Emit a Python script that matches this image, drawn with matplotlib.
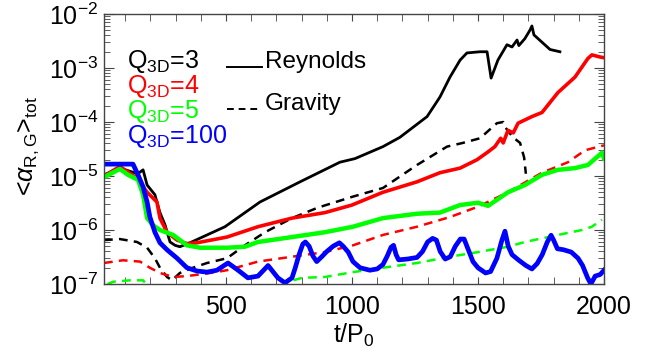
import numpy as np
import matplotlib
matplotlib.use("Agg")
import matplotlib.pyplot as plt
from matplotlib.lines import Line2D
from matplotlib.ticker import MultipleLocator, LogLocator

plt.rcParams['font.family'] = ['Liberation Sans', 'DejaVu Sans']
plt.rcParams['mathtext.fontset'] = 'custom'
plt.rcParams['mathtext.rm'] = 'Liberation Sans'
plt.rcParams['mathtext.it'] = 'Liberation Sans:italic'
plt.rcParams['mathtext.bf'] = 'Liberation Sans:bold'

# ---- Q3D = 3 ----
t_rey3 = [16, 79, 150, 171, 187, 218, 238, 258, 278, 298, 317, 357, 496, 635, 794,
          952, 1012, 1123, 1190, 1298, 1349, 1389, 1429, 1456, 1508, 1536, 1552,
          1579, 1615, 1635, 1655, 1662, 1686, 1706, 1714, 1722, 1754, 1786, 1825]
a_rey3 = [1.05e-5, 1.4e-5, 1.1e-5, 1.3e-5, 6.8e-6, 4.5e-6, 2.1e-6, 1.25e-6, 6.0e-7,
          5.2e-7, 4.9e-7, 5.8e-7, 1.15e-6, 3.3e-6, 7.8e-6, 1.8e-5, 2.1e-5, 3.5e-5,
          5.2e-5, 1.26e-4, 2.9e-4, 6.8e-4, 1.4e-3, 1.9e-3, 2.0e-3, 2.0e-3, 6.5e-4,
          1.4e-3, 2.7e-3, 2.45e-3, 3.3e-3, 2.6e-3, 3.5e-3, 5.0e-3, 6.0e-3, 4.1e-3,
          3.0e-3, 2.2e-3, 2.0e-3]

t_grav3 = [16, 79, 147, 187, 218, 238, 266, 286, 317, 369, 425, 504, 575, 655, 762,
           865, 1000, 1123, 1258, 1377, 1440, 1508, 1575, 1600, 1607, 1639, 1667,
           1683, 1690]
a_grav3 = [6.5e-7, 6.8e-7, 6.0e-7, 4.7e-7, 3.0e-7, 2.0e-7, 1.35e-7, 1.17e-7, 1.6e-7,
           2.0e-7, 2.45e-7, 3.0e-7, 5.2e-7, 9.1e-7, 1.66e-6, 2.6e-6, 4.1e-6, 6.0e-6,
           1.6e-5, 3.5e-5, 4.1e-5, 5.0e-5, 9.5e-5, 1.0e-4, 8.1e-5, 5.2e-5, 4.1e-5,
           2.2e-5, 1.1e-5]

# ---- Q3D = 4 ----
t_rey4 = [16, 79, 147, 187, 226, 238, 266, 306, 345, 385, 504, 627, 762, 893, 1000,
          1123, 1258, 1349, 1429, 1496, 1540, 1567, 1590, 1600, 1619, 1640, 1659,
          1714, 1754, 1817, 1885, 1936, 1952, 1984, 2000]
a_rey4 = [1.0e-5, 1.5e-5, 9.1e-6, 5.0e-6, 3.3e-6, 1.66e-6, 9.1e-7, 6.5e-7, 5.6e-7,
          5.8e-7, 7.4e-7, 1.15e-6, 1.66e-6, 2.1e-6, 2.9e-6, 5.0e-6, 7.8e-6, 1.15e-5,
          1.4e-5, 2.0e-5, 2.8e-5, 3.5e-5, 5.0e-5, 4.1e-5, 7.0e-5, 6.3e-5, 9.5e-5,
          1.26e-4, 1.5e-4, 3.5e-4, 6.8e-4, 1.5e-3, 1.75e-3, 1.6e-3, 1.55e-3]

t_grav4 = [16, 91, 159, 198, 238, 290, 345, 437, 504, 627, 762, 893, 1004, 1123,
           1258, 1389, 1500, 1619, 1754, 1857, 1925, 2000]
a_grav4 = [2.45e-7, 2.75e-7, 2.6e-7, 2.0e-7, 1.6e-7, 1.35e-7, 1.4e-7, 1.6e-7, 1.8e-7,
           2.6e-7, 3.2e-7, 3.9e-7, 5.2e-7, 8.1e-7, 1.15e-6, 1.74e-6, 2.7e-6, 5.0e-6,
           1.15e-5, 1.8e-5, 3.0e-5, 3.7e-5]

# ---- Q3D = 5 ----
t_rey5 = [16, 79, 111, 151, 171, 187, 210, 238, 290, 345, 397, 504, 575, 627, 762,
          893, 1004, 1123, 1258, 1349, 1429, 1500, 1540, 1619, 1686, 1754, 1817,
          1885, 1936, 1992, 2000]
a_rey5 = [9.5e-6, 1.35e-5, 1.05e-5, 8.5e-6, 4.5e-6, 1.66e-6, 1.23e-6, 1.0e-6, 8.1e-7,
          5.2e-7, 4.7e-7, 4.7e-7, 4.9e-7, 6.0e-7, 7.4e-7, 9.1e-7, 1.15e-6, 1.66e-6,
          2.0e-6, 2.1e-6, 2.9e-6, 3.2e-6, 2.8e-6, 5.0e-6, 6.8e-6, 1.05e-5, 1.3e-5,
          1.4e-5, 1.6e-5, 2.7e-5, 2.1e-5]

t_grav5 = [30, 52, 119, 171, 200, 400, 700, 746, 802, 893, 1004, 1123, 1258, 1389,
           1500, 1619, 1686, 1817, 1913, 1952, 1992]
a_grav5 = [1.0e-7, 1.1e-7, 1.17e-7, 1.17e-7, 8.0e-8, 5.0e-8, 8.0e-8, 1.1e-7, 1.3e-7,
           1.35e-7, 1.66e-7, 2.0e-7, 2.45e-7, 3.2e-7, 3.9e-7, 4.9e-7, 6.0e-7, 8.1e-7,
           1.0e-6, 1.15e-6, 1.55e-6]

# ---- Q3D = 100 ----
t_rey100 = [16, 131, 151, 171, 187, 198, 218, 238, 266, 306, 345, 385, 425, 464, 508,
            548, 587, 627, 667, 706, 734, 762, 775, 790, 805, 815, 830, 845, 860, 880,
            900, 925, 950, 965, 985, 1004, 1032, 1071, 1100, 1123, 1140, 1155, 1165,
            1175, 1185, 1220, 1258, 1280, 1300, 1320, 1335, 1350, 1370, 1390, 1410,
            1430, 1445, 1460, 1480, 1500, 1530, 1550, 1575, 1595, 1607, 1620, 1635,
            1660, 1690, 1714, 1735, 1755, 1775, 1790, 1800, 1815, 1840, 1870, 1897,
            1915, 1935, 1948, 1965, 1985, 2000]
a_rey100 = [1.66e-5, 1.66e-5, 1.05e-5, 6.3e-6, 3.3e-6, 1.74e-6, 9.1e-7, 5.8e-7, 4.3e-7,
            3.0e-7, 2.0e-7, 1.74e-7, 1.66e-7, 1.8e-7, 2.45e-7, 1.8e-7, 1.3e-7, 1.4e-7,
            2.2e-7, 1.3e-7, 1.05e-7, 1.3e-7, 2.0e-7, 3.5e-7, 5.5e-7, 6.0e-7, 5.0e-7,
            3.3e-7, 2.6e-7, 3.2e-7, 4.0e-7, 5.0e-7, 5.8e-7, 5.0e-7, 3.9e-7, 2.6e-7,
            2.0e-7, 1.8e-7, 1.9e-7, 2.3e-7, 3.3e-7, 4.8e-7, 5.2e-7, 3.5e-7, 2.8e-7,
            2.9e-7, 3.1e-7, 4.0e-7, 6.0e-7, 7.0e-7, 6.5e-7, 4.0e-7, 2.9e-7, 3.2e-7,
            5.0e-7, 6.8e-7, 6.8e-7, 4.5e-7, 2.6e-7, 2.0e-7, 1.6e-7, 1.7e-7, 3.0e-7,
            6.5e-7, 9.5e-7, 5.0e-7, 3.5e-7, 2.8e-7, 2.2e-7, 1.9e-7, 2.4e-7, 3.5e-7,
            6.0e-7, 8.0e-7, 6.5e-7, 4.5e-7, 4.3e-7, 3.9e-7, 3.0e-7, 2.2e-7, 1.3e-7,
            1.0e-7, 1.4e-7, 1.5e-7, 1.8e-7]

legend_q = ['3', '4', '5', '100']
colors = ['black', '#ff0000', '#00ff00', '#0000ff']

W, H = 660, 356
fig = plt.figure(figsize=(W / 100, H / 100), dpi=100)
ax = fig.add_axes([104 / W, 1 - 284 / H, 500 / W, 270 / H])

dash = (0, (3.5, 2.5))
ax.plot(t_rey3, a_rey3, color=colors[0], lw=2.0, solid_joinstyle='round')
ax.plot(t_grav3, a_grav3, color=colors[0], lw=1.8, ls=dash)
ax.plot(t_rey4, a_rey4, color=colors[1], lw=2.6, solid_joinstyle='round')
ax.plot(t_grav4, a_grav4, color=colors[1], lw=1.8, ls=dash)
ax.plot(t_rey5, a_rey5, color=colors[2], lw=3.2, solid_joinstyle='round')
ax.plot(t_grav5, a_grav5, color=colors[2], lw=1.8, ls=dash)
ax.plot(t_rey100, a_rey100, color=colors[3], lw=3.4, solid_joinstyle='round')

ax.set_yscale('log')
ax.set_xlim(16, 2000)
ax.set_ylim(1e-7, 1e-2)

ax.xaxis.set_major_locator(MultipleLocator(500))
ax.xaxis.set_minor_locator(MultipleLocator(100))
ax.yaxis.set_major_locator(LogLocator(base=10, numticks=10))
ax.yaxis.set_minor_locator(LogLocator(base=10, subs=np.arange(2, 10), numticks=20))

spine_c = '#444444'
for s in ax.spines.values():
    s.set_color(spine_c)
    s.set_linewidth(1.0)
ax.tick_params(which='both', direction='in', top=True, right=True, colors=spine_c,
               labelcolor='black', labelsize=18)
ax.tick_params(axis='x', which='both', length=5, pad=8)
ax.tick_params(axis='y', which='major', length=7, pad=4)
ax.tick_params(axis='y', which='minor', length=4)

# legend block
fs = 18
for i, (q, c) in enumerate(zip(legend_q, colors)):
    fig.text(127 / W, 1 - (68 + 25 * i) / H, r'Q$_{\rm 3D}$=' + q, color=c,
             fontsize=fs, ha='left', va='baseline')

fig.add_artist(Line2D([227 / W, 262 / W], [1 - 67 / H, 1 - 67 / H], color='black',
                      lw=1.4, transform=fig.transFigure))
fig.add_artist(Line2D([227 / W, 258 / W], [1 - 109 / H, 1 - 109 / H], color='black',
                      lw=1.4, ls=dash, transform=fig.transFigure))
fig.text(265 / W, 1 - 68 / H, 'Reynolds', fontsize=17.5, ha='left', va='baseline')
fig.text(265 / W, 1 - 110 / H, 'Gravity', fontsize=17.5, ha='left', va='baseline')

fig.text(354 / W, 1 - 335 / H, r't/P$_{\rm 0}$', fontsize=fs, ha='center', va='center')
fig.text(28 / W, 1 - 146 / H, r'<$\alpha_{\rm R,G}$>$_{\rm tot}$', fontsize=fs,
         rotation=90, ha='center', va='center')

fig.savefig('out.png', dpi=100)
